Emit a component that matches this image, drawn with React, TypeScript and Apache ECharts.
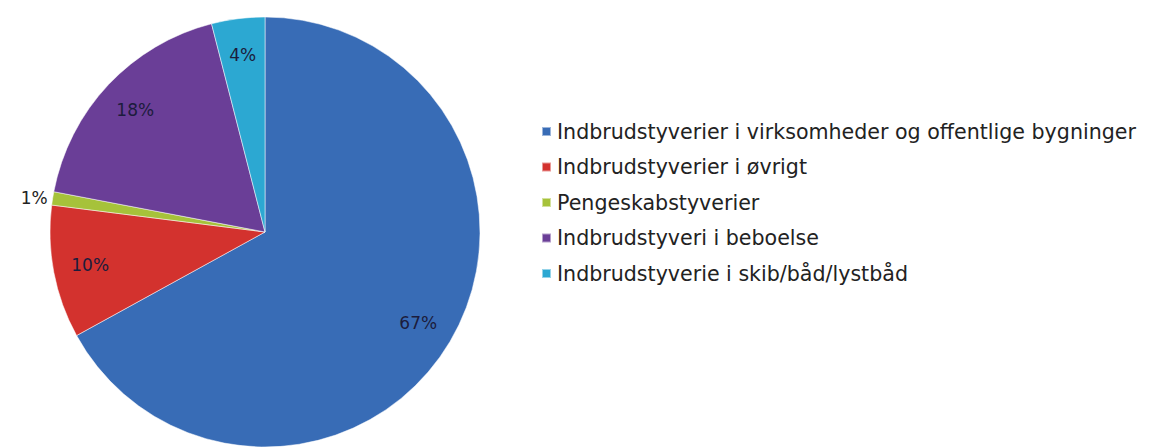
import React, { useEffect, useRef } from "react";
import * as echarts from "echarts";

const categories = [
  "Indbrudstyverier i virksomheder og offentlige bygninger",
  "Indbrudstyverier i øvrigt",
  "Pengeskabstyverier",
  "Indbrudstyveri i beboelse",
  "Indbrudstyverie i skib/båd/lystbåd",
];
const values = [67, 10, 1, 18, 4];
const colors = ["#386cb6", "#d3322e", "#a6c23a", "#6a3e97", "#2ca8d2"];

export default function App() {
  const ref = useRef<HTMLDivElement>(null);
  useEffect(() => {
    if (!ref.current) return;
    const chart = echarts.init(ref.current, undefined, { renderer: "svg" });
    const labelFont = {
      fontFamily: "DejaVu Sans",
      fontSize: 17,
      color: "#1c1c3c",
    };
    chart.setOption({
      animation: false,
      backgroundColor: "#ffffff",
      color: colors,
      legend: {
        orient: "vertical",
        left: 536,
        top: 116,
        itemWidth: 9,
        itemHeight: 9,
        itemGap: 14.5,
        icon: "rect",
        selectedMode: false,
        data: categories,
        textStyle: {
          fontFamily: "DejaVu Sans",
          fontSize: 20.6,
          color: "#222222",
          padding: [0, 0, 0, 1],
        },
      },
      series: [
        {
          type: "pie",
          center: [265, 232],
          radius: 215,
          startAngle: 90,
          clockwise: true,
          silent: true,
          itemStyle: {
            borderColor: "rgba(255,255,255,0.5)",
            borderWidth: 1,
          },
          label: { show: false },
          labelLine: { show: false },
          data: categories.map((name, i) => ({
            name,
            value: values[i],
            label:
              i === 2
                ? {
                    show: true,
                    position: "outside",
                    formatter: "{d}%",
                    ...labelFont,
                    color: "#222222",
                  }
                : { show: false },
            labelLine: { show: false, length: 0, length2: 0 },
          })),
        },
        {
          type: "pie",
          center: [265, 232],
          radius: [152, 198],
          startAngle: 90,
          clockwise: true,
          silent: true,
          itemStyle: { color: "rgba(0,0,0,0)", borderWidth: 0 },
          label: {
            show: true,
            position: "inside",
            formatter: "{d}%",
            ...labelFont,
          },
          labelLine: { show: false },
          data: categories.map((name, i) => ({
            name,
            value: values[i],
            label: { show: i !== 2 },
          })),
        },
      ],
    });
    return () => chart.dispose();
  }, []);
  return (
    <div
      ref={ref}
      style={{ position: "fixed", left: 0, top: 0, width: 1167, height: 447 }}
    />
  );
}
